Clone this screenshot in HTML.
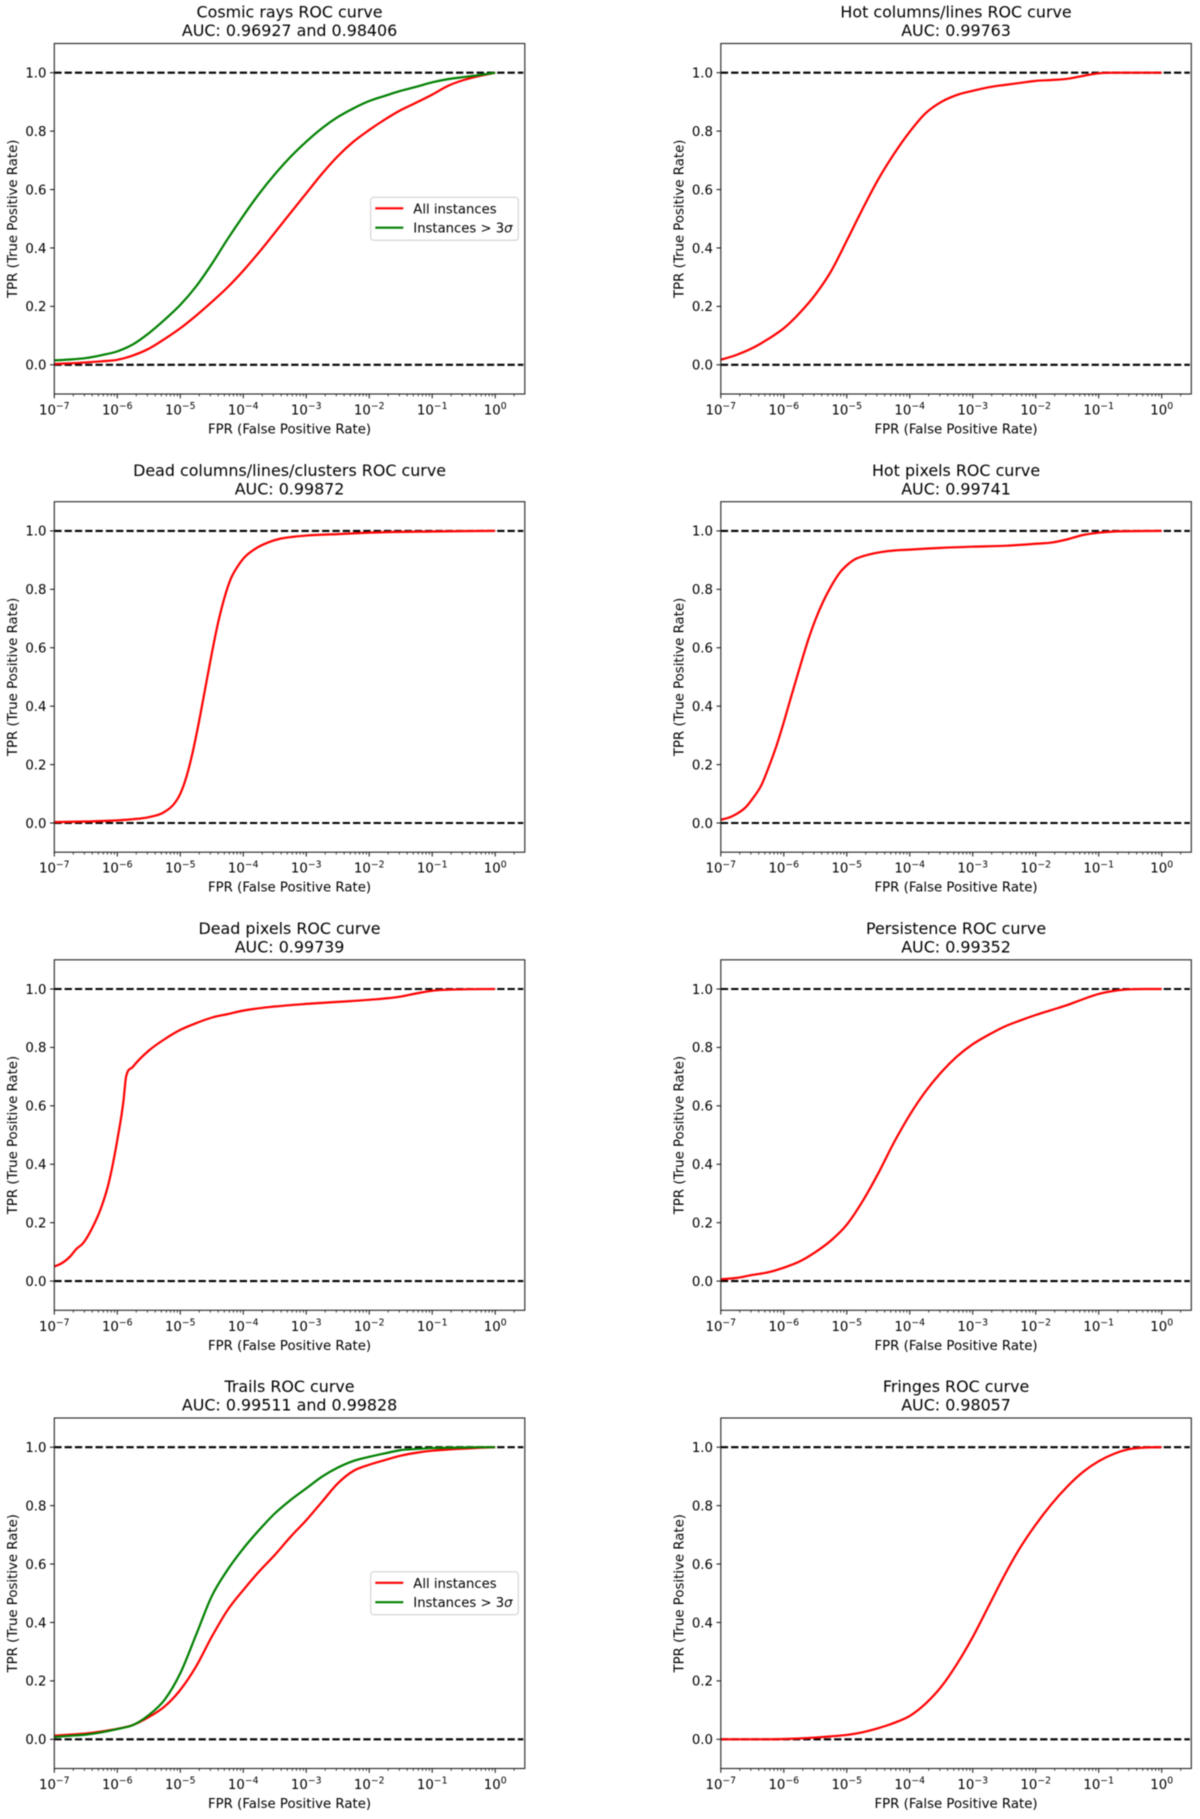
<!DOCTYPE html>
<html lang="en">
<head>
<meta charset="utf-8">
<title>ROC curves</title>
<style>
html,body{margin:0;padding:0;background:#fff;}
#figure{display:block;width:1200px;height:1819px;filter:blur(0.4px);}
text{font-family:"DejaVu Sans","Liberation Sans",sans-serif;fill:#000;}
.title{font-size:15.9px;text-anchor:middle;}
.axis-label{font-size:13.3px;text-anchor:middle;}
.tick-label{font-size:13.3px;}
.legend-text{font-size:13.2px;}
.sigma{font-style:italic;}
.frame{fill:none;stroke:#222;stroke-width:1.1;}
.legend-box{fill:#fff;fill-opacity:.8;stroke:#ccc;stroke-width:1;}
</style>
</head>
<body>
<svg id="figure" xmlns="http://www.w3.org/2000/svg" width="1200" height="1819" viewBox="0 0 1200 1819">
  <rect width="1200" height="1819" fill="#fff"/>

  <g id="cosmic" transform="translate(54.3,43.5)">
    <text class="title" x="235.25" y="-25.8">Cosmic rays ROC curve</text>
    <text class="title" x="235.25" y="-7.4">AUC: 0.96927 and 0.98406</text>
    <g class="marks"></g>
    <rect class="frame" width="470.5" height="350.5"/>
    <g>
      <rect class="legend-box" x="316.4" y="153.8" width="147.6" height="43" rx="3"/>
      <line x1="321" x2="349" y1="164.8" y2="164.8" stroke="#f00" stroke-width="2.2"/>
      <text class="legend-text" x="359" y="169.8">All instances</text>
      <line x1="321" x2="349" y1="184.2" y2="184.2" stroke="#008000" stroke-width="2.2"/>
      <text class="legend-text" x="359" y="189.2">Instances &gt; 3<tspan class="sigma">σ</tspan></text>
    </g>
    <text class="axis-label" x="235.25" y="390">FPR (False Positive Rate)</text>
    <text class="axis-label" transform="translate(-37.5,175.25) rotate(-90)">TPR (True Positive Rate)</text>
  </g>

  <g id="hotcol" transform="translate(720.8,43.5)">
    <text class="title" x="235.25" y="-25.8">Hot columns/lines ROC curve</text>
    <text class="title" x="235.25" y="-7.4">AUC: 0.99763</text>
    <g class="marks"></g>
    <rect class="frame" width="470.5" height="350.5"/>
    <text class="axis-label" x="235.25" y="390">FPR (False Positive Rate)</text>
    <text class="axis-label" transform="translate(-37.5,175.25) rotate(-90)">TPR (True Positive Rate)</text>
  </g>

  <g id="deadcol" transform="translate(54.3,501.7)">
    <text class="title" x="235.25" y="-25.8">Dead columns/lines/clusters ROC curve</text>
    <text class="title" x="235.25" y="-7.4">AUC: 0.99872</text>
    <g class="marks"></g>
    <rect class="frame" width="470.5" height="350.5"/>
    <text class="axis-label" x="235.25" y="390">FPR (False Positive Rate)</text>
    <text class="axis-label" transform="translate(-37.5,175.25) rotate(-90)">TPR (True Positive Rate)</text>
  </g>

  <g id="hotpix" transform="translate(720.8,501.7)">
    <text class="title" x="235.25" y="-25.8">Hot pixels ROC curve</text>
    <text class="title" x="235.25" y="-7.4">AUC: 0.99741</text>
    <g class="marks"></g>
    <rect class="frame" width="470.5" height="350.5"/>
    <text class="axis-label" x="235.25" y="390">FPR (False Positive Rate)</text>
    <text class="axis-label" transform="translate(-37.5,175.25) rotate(-90)">TPR (True Positive Rate)</text>
  </g>

  <g id="deadpix" transform="translate(54.3,959.8)">
    <text class="title" x="235.25" y="-25.8">Dead pixels ROC curve</text>
    <text class="title" x="235.25" y="-7.4">AUC: 0.99739</text>
    <g class="marks"></g>
    <rect class="frame" width="470.5" height="350.5"/>
    <text class="axis-label" x="235.25" y="390">FPR (False Positive Rate)</text>
    <text class="axis-label" transform="translate(-37.5,175.25) rotate(-90)">TPR (True Positive Rate)</text>
  </g>

  <g id="persist" transform="translate(720.8,959.8)">
    <text class="title" x="235.25" y="-25.8">Persistence ROC curve</text>
    <text class="title" x="235.25" y="-7.4">AUC: 0.99352</text>
    <g class="marks"></g>
    <rect class="frame" width="470.5" height="350.5"/>
    <text class="axis-label" x="235.25" y="390">FPR (False Positive Rate)</text>
    <text class="axis-label" transform="translate(-37.5,175.25) rotate(-90)">TPR (True Positive Rate)</text>
  </g>

  <g id="trails" transform="translate(54.3,1418)">
    <text class="title" x="235.25" y="-25.8">Trails ROC curve</text>
    <text class="title" x="235.25" y="-7.4">AUC: 0.99511 and 0.99828</text>
    <g class="marks"></g>
    <rect class="frame" width="470.5" height="350.5"/>
    <g>
      <rect class="legend-box" x="316.4" y="153.8" width="147.6" height="43" rx="3"/>
      <line x1="321" x2="349" y1="164.8" y2="164.8" stroke="#f00" stroke-width="2.2"/>
      <text class="legend-text" x="359" y="169.8">All instances</text>
      <line x1="321" x2="349" y1="184.2" y2="184.2" stroke="#008000" stroke-width="2.2"/>
      <text class="legend-text" x="359" y="189.2">Instances &gt; 3<tspan class="sigma">σ</tspan></text>
    </g>
    <text class="axis-label" x="235.25" y="390">FPR (False Positive Rate)</text>
    <text class="axis-label" transform="translate(-37.5,175.25) rotate(-90)">TPR (True Positive Rate)</text>
  </g>

  <g id="fringes" transform="translate(720.8,1418)">
    <text class="title" x="235.25" y="-25.8">Fringes ROC curve</text>
    <text class="title" x="235.25" y="-7.4">AUC: 0.98057</text>
    <g class="marks"></g>
    <rect class="frame" width="470.5" height="350.5"/>
    <text class="axis-label" x="235.25" y="390">FPR (False Positive Rate)</text>
    <text class="axis-label" transform="translate(-37.5,175.25) rotate(-90)">TPR (True Positive Rate)</text>
  </g>
</svg>

<script>
// Axis tick data
const xTickExponents = [-7, -6, -5, -4, -3, -2, -1, 0];
const xTickLabels = ['\u22127', '\u22126', '\u22125', '\u22124', '\u22123', '\u22122', '\u22121', '0'];
const yTickValues = [0, 0.2, 0.4, 0.6, 0.8, 1];
const yTickLabels = ['0.0', '0.2', '0.4', '0.6', '0.8', '1.0'];
const referenceLevels = [0, 1];

// Shared FPR sampling (log10 of FPR)
const quarterFpr = [-7,-6.75,-6.5,-6.25,-6,-5.75,-5.5,-5.25,-5,-4.75,-4.5,-4.25,-4,-3.75,-3.5,-3.25,-3,-2.75,-2.5,-2.25,-2,-1.75,-1.5,-1.25,-1,-0.75,-0.5,-0.25,0];

// TPR series
const cosmicAll = [.003,.005,.008,.012,.017,.032,.055,.088,.125,.168,.215,.265,.322,.385,.452,.52,.587,.654,.714,.764,.804,.84,.872,.898,.925,.955,.975,.989,1];
const cosmicSigma = [.015,.018,.023,.033,.046,.07,.108,.154,.205,.268,.345,.43,.51,.585,.652,.712,.764,.81,.848,.878,.903,.921,.938,.952,.967,.978,.985,.992,1];
const hotColumns = [.017,.034,.057,.088,.125,.177,.24,.32,.425,.533,.635,.722,.798,.861,.9,.924,.938,.95,.958,.965,.972,.975,.979,.989,.998,1,1,1,1];
const persistence = [.006,.011,.021,.03,.046,.067,.099,.139,.193,.273,.369,.475,.569,.649,.715,.769,.811,.843,.871,.892,.911,.928,.945,.965,.983,.994,.999,1,1];
const trailsAll = [.0125,.016,.02,.027,.036,.049,.076,.112,.169,.249,.351,.442,.511,.574,.631,.693,.75,.813,.876,.919,.94,.956,.971,.981,.988,.992,.995,.998,1];
const trailsSigma = [.008,.012,.016,.024,.035,.049,.083,.135,.226,.357,.49,.58,.653,.716,.773,.819,.859,.899,.93,.953,.967,.979,.99,.994,.997,.998,.999,1,1];
const fringes = [0,0,0,0,.001,.003,.006,.01,.015,.024,.038,.056,.08,.122,.18,.258,.35,.455,.56,.655,.735,.805,.865,.915,.952,.978,.994,.999,1];

const deadColumnsFpr = [-7,-6.5,-6,-5.75,-5.5,-5.25,-5.1,-5,-4.9,-4.8,-4.7,-4.6,-4.5,-4.4,-4.3,-4.2,-4.1,-4,-3.8,-3.6,-3.4,-3.2,-3,-2.5,-2,-1,0];
const deadColumns = [.003,.005,.009,.013,.02,.038,.065,.1,.16,.245,.35,.465,.58,.685,.77,.835,.875,.905,.94,.961,.974,.98,.984,.989,.994,.998,1];

const hotPixelsFpr = [-7,-6.85,-6.75,-6.6,-6.5,-6.35,-6.25,-6.1,-6,-5.9,-5.75,-5.6,-5.5,-5.25,-5.1,-5,-4.85,-4.75,-4.5,-4.25,-4,-3.5,-3,-2.5,-2,-1.75,-1.5,-1.25,-1,-0.75,0];
const hotPixels = [.011,.02,.031,.055,.082,.132,.185,.275,.345,.42,.53,.635,.695,.81,.86,.882,.905,.913,.926,.933,.936,.942,.946,.949,.956,.96,.971,.986,.994,.998,1];

const deadPixelsFpr = [-7,-6.9,-6.75,-6.65,-6.55,-6.4,-6.25,-6.15,-6,-5.9,-5.86,-5.75,-5.5,-5.25,-5,-4.75,-4.5,-4.25,-4,-3.5,-3,-2.5,-2,-1.5,-1.25,-1,-0.5,0];
const deadPixels = [.05,.059,.084,.11,.128,.181,.255,.324,.483,.62,.70,.734,.789,.828,.86,.883,.902,.914,.926,.94,.949,.956,.963,.974,.985,.994,.999,1];

const panels = [
  {id: 'cosmic', series: [{name: 'all-instances', x: quarterFpr, y: cosmicAll, color: '#f00'}, {name: 'instances-3-sigma', x: quarterFpr, y: cosmicSigma, color: '#008000'}]},
  {id: 'hotcol', series: [{name: 'roc', x: quarterFpr, y: hotColumns, color: '#f00'}]},
  {id: 'deadcol', series: [{name: 'roc', x: deadColumnsFpr, y: deadColumns, color: '#f00'}]},
  {id: 'hotpix', series: [{name: 'roc', x: hotPixelsFpr, y: hotPixels, color: '#f00'}]},
  {id: 'deadpix', series: [{name: 'roc', x: deadPixelsFpr, y: deadPixels, color: '#f00'}]},
  {id: 'persist', series: [{name: 'roc', x: quarterFpr, y: persistence, color: '#f00'}]},
  {id: 'trails', series: [{name: 'all-instances', x: quarterFpr, y: trailsAll, color: '#f00'}, {name: 'instances-3-sigma', x: quarterFpr, y: trailsSigma, color: '#008000'}]},
  {id: 'fringes', series: [{name: 'roc', x: quarterFpr, y: fringes, color: '#f00'}]}
];

const NS = 'http://www.w3.org/2000/svg';
const plotW = 470.5, plotH = 350.5;
const xMin = -7, xMax = 0.47, yMin = -0.1, yMax = 1.1;
function xScale(e) { return (e - xMin) / (xMax - xMin) * plotW; }
function yScale(v) { return (yMax - v) / (yMax - yMin) * plotH; }
function fmt(n) { return n.toFixed(2); }

// Smooth cubic path through the data points, with tangents clamped to stay monotone
function curvePath(xs, ys) {
  const px = xs.map(xScale), py = ys.map(yScale), n = px.length;
  const d = [], m = [];
  for (let i = 0; i < n - 1; i++) d.push((py[i + 1] - py[i]) / (px[i + 1] - px[i]));
  m[0] = d[0]; m[n - 1] = d[n - 2];
  for (let i = 1; i < n - 1; i++) {
    if (d[i - 1] * d[i] <= 0) { m[i] = 0; continue; }
    const h0 = px[i] - px[i - 1], h1 = px[i + 1] - px[i];
    const t = (d[i - 1] * h1 + d[i] * h0) / (h0 + h1);
    const lim = 3 * Math.min(Math.abs(d[i - 1]), Math.abs(d[i]));
    m[i] = Math.max(-lim, Math.min(lim, t));
  }
  let path = 'M' + fmt(px[0]) + ' ' + fmt(py[0]);
  for (let i = 0; i < n - 1; i++) {
    const h = (px[i + 1] - px[i]) / 3;
    path += 'C' + fmt(px[i] + h) + ' ' + fmt(py[i] + m[i] * h) + ' ' + fmt(px[i + 1] - h) + ' ' + fmt(py[i + 1] - m[i + 1] * h) + ' ' + fmt(px[i + 1]) + ' ' + fmt(py[i + 1]);
  }
  return path;
}

function drawTick(parent, x1, y1, x2, y2, width) {
  const t = document.createElementNS(NS, 'line');
  t.setAttribute('x1', fmt(x1));
  t.setAttribute('y1', fmt(y1));
  t.setAttribute('x2', fmt(x2));
  t.setAttribute('y2', fmt(y2));
  t.setAttribute('stroke', '#111');
  t.setAttribute('stroke-width', width);
  
  
  parent.appendChild(t);
}

panels.forEach(function (panel) {
  const root = document.getElementById(panel.id);
  const marks = root.querySelector('.marks');

  // Reference dashed levels
  referenceLevels.forEach(function (level) {
    const dash = document.createElementNS(NS, 'line');
    dash.setAttribute('x1', 0);
    dash.setAttribute('x2', fmt(plotW - 1.5));
    dash.setAttribute('y1', fmt(yScale(level)));
    dash.setAttribute('y2', fmt(yScale(level)));
    dash.setAttribute('stroke', '#000');
    dash.setAttribute('stroke-width', 2.1);
    dash.setAttribute('stroke-dasharray', '7.3 3');
    
    
    marks.appendChild(dash);
  });

  // ROC curves
  panel.series.forEach(function (s) {
    const path = document.createElementNS(NS, 'path');
    path.setAttribute('d', curvePath(s.x, s.y));
    path.setAttribute('fill', 'none');
    path.setAttribute('stroke', s.color);
    path.setAttribute('stroke-width', 2.2);
    path.setAttribute('stroke-linejoin', 'round');
    
    
    marks.appendChild(path);
  });

  // Y axis ticks and labels
  yTickValues.forEach(function (v, i) {
    const y = yScale(v);
    drawTick(root, -4.3, y, 0, y, 1);
    const label = document.createElementNS(NS, 'text');
    label.setAttribute('class', 'tick-label');
    label.setAttribute('x', -7.8);
    label.setAttribute('y', fmt(y + 4.8));
    label.setAttribute('text-anchor', 'end');
    
    
    label.textContent = yTickLabels[i];
    root.appendChild(label);
  });

  // X axis major ticks and labels
  xTickExponents.forEach(function (e, i) {
    const x = xScale(e);
    drawTick(root, x, plotH, x, plotH + 4.3, 1);
    const label = document.createElementNS(NS, 'text');
    label.setAttribute('class', 'tick-label');
    label.setAttribute('x', fmt(x));
    label.setAttribute('y', fmt(plotH + 20.5));
    label.setAttribute('text-anchor', 'middle');
    
    
    label.textContent = '10';
    const sup = document.createElementNS(NS, 'tspan');
    sup.setAttribute('font-size', '9.3');
    sup.setAttribute('dy', '-5.4');
    sup.textContent = xTickLabels[i];
    label.appendChild(sup);
    root.appendChild(label);
  });

  // X axis minor ticks
  for (let dec = -7; dec <= 0; dec++) {
    for (let k = 2; k <= 9; k++) {
      const e = dec + Math.log10(k);
      if (e <= xMax) {
        drawTick(root, xScale(e), plotH, xScale(e), plotH + 2.4, 0.75);
      }
    }
  }
});
</script>
</body>
</html>
